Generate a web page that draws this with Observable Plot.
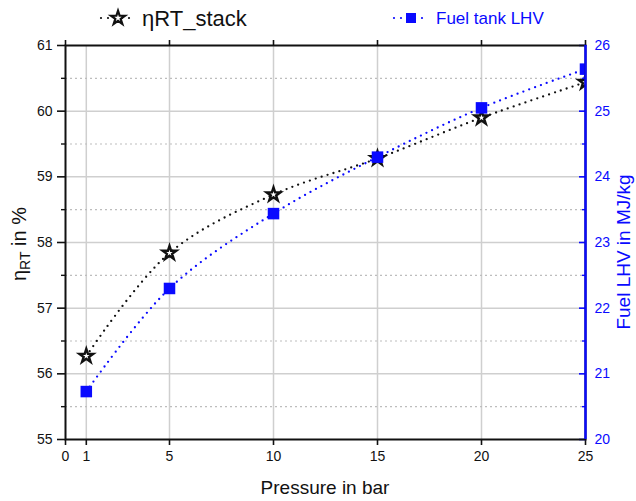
<!DOCTYPE html>
<html>
<head>
<meta charset="utf-8">
<script src="https://cdn.jsdelivr.net/npm/d3@7"></script>
<script src="https://cdn.jsdelivr.net/npm/@observablehq/plot@0.6"></script>
<style>
  body { margin: 0; background: #fff; }
  #chart { width: 636px; height: 501px; }
</style>
</head>
<body>
<div id="chart"></div>
<script>
// Round-trip stack efficiency and fuel-tank LHV versus storage pressure
const pressure = [1, 5, 10, 15, 20, 25];
const etaRT = [56.27, 57.84, 58.73, 59.28, 59.90, 60.44];   // %
const fuelLHV = [20.73, 22.30, 23.44, 24.30, 25.05, 25.64]; // MJ/kg

const xTicks = [0, 1, 5, 10, 15, 20, 25];
const xTopTicks = [0, 5, 10, 15, 20, 25];
const xGrid = [1, 5, 10, 15, 20];
const etaTicks = [55, 56, 57, 58, 59, 60, 61];
const etaGrid = [56, 57, 58, 59, 60];
const etaMinor = [55.5, 56.5, 57.5, 58.5, 59.5, 60.5];
const lhvTicks = [20, 21, 22, 23, 24, 25, 26];
const lhvMinor = [20.5, 21.5, 22.5, 23.5, 24.5, 25.5];

// The LHV axis (20–26) is laid over the efficiency axis (55–61)
const lhvShift = 35;
const toY = v => v + lhvShift;

const BLUE = "#0a0aff";
const FONT = "'Liberation Sans', Arial, sans-serif";

const rows = pressure.map((p, i) => ({p, eta: etaRT[i], lhv: fuelLHV[i]}));

const dotted = {strokeWidth: 2.3, strokeDasharray: "0,6.2", strokeLinecap: "round", curve: "catmull-rom", clip: true};

const chart = Plot.plot({
  width: 636,
  height: 501,
  marginLeft: 65,
  marginRight: 51,
  marginTop: 45,
  marginBottom: 62,
  x: {domain: [0, 25]},
  y: {domain: [55, 61]},
  style: {fontFamily: FONT, fontSize: "14px", color: "#111", background: "white"},
  marks: [
    // grid
    Plot.gridX(xGrid, {stroke: "#cfcfcf", strokeOpacity: 1, strokeWidth: 1.5}),
    Plot.gridY(etaGrid, {stroke: "#cfcfcf", strokeOpacity: 1, strokeWidth: 1.5}),
    Plot.gridY(etaMinor, {stroke: "#bdbdbd", strokeOpacity: 1, strokeWidth: 1.2, strokeDasharray: "2,3"}),

    // series
    Plot.line(rows, {x: "p", y: "eta", stroke: "#111", ...dotted}),
    Plot.line(rows, {x: "p", y: d => toY(d.lhv), stroke: BLUE, ...dotted}),
    Plot.dot(rows, {x: "p", y: "eta", symbol: "star", r: 4.3, fill: "white", stroke: "#111", strokeWidth: 2.4, clip: true}),
    Plot.dot(rows, {x: "p", y: d => toY(d.lhv), symbol: "square", r: 6.5, fill: BLUE, stroke: "none", clip: true}),

    // bottom axis
    Plot.axisX({ticks: xTicks, tickSize: 6, tickPadding: 6, strokeWidth: 1.6, fontSize: 14, tickFormat: d3.format("d"), label: null}),
    // top axis ticks (no labels)
    Plot.axisX({anchor: "top", ticks: xTopTicks, tickSize: 6, strokeWidth: 1.6, tickFormat: () => "", label: null}),
    // left axis
    Plot.axisY({ticks: etaTicks, tickSize: 8, tickPadding: 5, strokeWidth: 1.6, fontSize: 14, tickFormat: d3.format("d"), label: null}),
    Plot.axisY({ticks: etaMinor, tickSize: 4, strokeWidth: 1.4, tickFormat: () => "", label: null}),
    // right axis: inward ticks, blue labels in MJ/kg
    Plot.axisY({anchor: "right", ticks: etaTicks, tickSize: 7, insetRight: 7, tickPadding: 9,
      tickFormat: v => String(v - lhvShift), stroke: BLUE, fill: BLUE, strokeWidth: 1.6, fontSize: 14, label: null}),
    Plot.axisY({anchor: "right", ticks: lhvMinor.map(toY), tickSize: 4, insetRight: 4,
      tickFormat: () => "", stroke: BLUE, strokeWidth: 1.4, label: null}),

    // frame, with the LHV side drawn in blue
    Plot.frame({stroke: "#111", strokeWidth: 2}),
    Plot.ruleX([25], {stroke: BLUE, strokeWidth: 2.4})
  ]
});

document.getElementById("chart").appendChild(chart);

// Axis titles and legend
const svg = d3.select(chart);

svg.append("text")
  .attr("x", 325).attr("y", 494)
  .attr("text-anchor", "middle")
  .attr("font-family", FONT).attr("font-size", 19).attr("fill", "#111")
  .text("Pressure in bar");

const leftTitle = svg.append("text")
  .attr("transform", "translate(26,244) rotate(-90)")
  .attr("text-anchor", "middle")
  .attr("font-family", FONT).attr("font-size", 20).attr("fill", "#111");
leftTitle.append("tspan").text("η");
leftTitle.append("tspan").attr("font-size", 14).attr("dy", 4).text("RT");
leftTitle.append("tspan").attr("dy", -4).text(" in %");

svg.append("text")
  .attr("transform", "translate(630,252) rotate(-90)")
  .attr("text-anchor", "middle")
  .attr("font-family", FONT).attr("font-size", 19).attr("fill", BLUE)
  .text("Fuel LHV in MJ/kg");

// legend
const legend = [
  {label: "ηRT_stack", color: "#111", symbol: d3.symbolStar, size: 60, fill: "white", x0: 101, x1: 135, text: 142, fontSize: 22},
  {label: "Fuel tank LHV", color: BLUE, symbol: d3.symbolSquare, size: 100, fill: BLUE, x0: 394, x1: 428, text: 436, fontSize: 17}
];
const lg = svg.append("g");
legend.forEach(item => {
  const cy = 18;
  const g = lg.append("g");
  g.append("line")
    .attr("x1", item.x0).attr("x2", item.x1).attr("y1", cy).attr("y2", cy)
    .attr("stroke", item.color).attr("stroke-width", 2.2)
    .attr("stroke-dasharray", "0,7").attr("stroke-linecap", "round");
  g.append("path")
    .attr("d", d3.symbol(item.symbol, item.size)())
    .attr("transform", `translate(${(item.x0 + item.x1) / 2},${cy})`)
    .attr("fill", item.fill).attr("stroke", item.fill === "white" ? item.color : "none")
    .attr("stroke-width", 2.2);
  g.append("text")
    .attr("x", item.text).attr("y", cy + item.fontSize * 0.36)
    .attr("text-anchor", "start")
    .attr("font-family", FONT).attr("font-size", item.fontSize).attr("fill", item.color)
    .text(item.label);
});
</script>
</body>
</html>
